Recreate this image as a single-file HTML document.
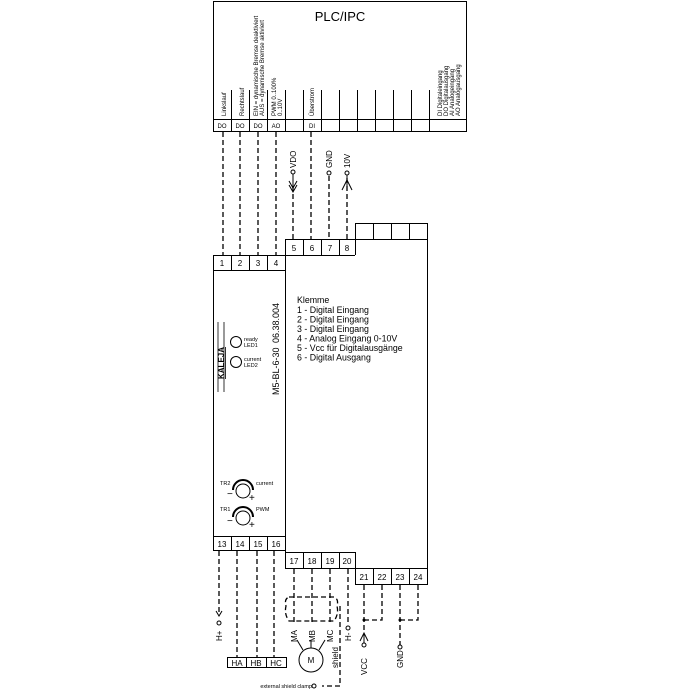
<!DOCTYPE html>
<html><head><meta charset="utf-8"><style>
html,body{margin:0;padding:0;background:#fff}
svg{display:block;font-family:"Liberation Sans",sans-serif}
</style></head><body>
<svg width="700" height="700" viewBox="0 0 700 700" xmlns="http://www.w3.org/2000/svg">
<g fill="none" stroke="#000" stroke-width="1">
<rect x="213.5" y="1.5" width="253" height="130"/>
<line x1="213" y1="119.5" x2="467" y2="119.5"/>
<g>
<line x1="231.5" y1="90" x2="231.5" y2="131"/>
<line x1="249.5" y1="90" x2="249.5" y2="131"/>
<line x1="267.5" y1="90" x2="267.5" y2="131"/>
<line x1="285.5" y1="90" x2="285.5" y2="131"/>
<line x1="303.5" y1="90" x2="303.5" y2="131"/>
<line x1="321.5" y1="90" x2="321.5" y2="131"/>
<line x1="339.5" y1="90" x2="339.5" y2="131"/>
<line x1="357.5" y1="90" x2="357.5" y2="131"/>
<line x1="375.5" y1="90" x2="375.5" y2="131"/>
<line x1="393.5" y1="90" x2="393.5" y2="131"/>
<line x1="411.5" y1="90" x2="411.5" y2="131"/>
<line x1="429.5" y1="90" x2="429.5" y2="131"/>
</g>
<rect x="355.5" y="223.5" width="72" height="16"/>
<line x1="373.5" y1="223" x2="373.5" y2="239"/><line x1="391.5" y1="223" x2="391.5" y2="239"/><line x1="409.5" y1="223" x2="409.5" y2="239"/>
<rect x="285.5" y="239.5" width="142" height="329"/>
<line x1="285" y1="255.5" x2="355" y2="255.5"/>
<line x1="303.5" y1="239" x2="303.5" y2="255"/><line x1="321.5" y1="239" x2="321.5" y2="255"/><line x1="339.5" y1="239" x2="339.5" y2="255"/><line x1="355.5" y1="239" x2="355.5" y2="255"/>
<rect x="213.5" y="255.5" width="72" height="295"/>
<line x1="213" y1="270.5" x2="285" y2="270.5"/>
<line x1="231.5" y1="255" x2="231.5" y2="270"/><line x1="249.5" y1="255" x2="249.5" y2="270"/><line x1="267.5" y1="255" x2="267.5" y2="270"/>
<line x1="213" y1="536.5" x2="285" y2="536.5"/>
<line x1="231.5" y1="536" x2="231.5" y2="550"/><line x1="249.5" y1="536" x2="249.5" y2="550"/><line x1="267.5" y1="536" x2="267.5" y2="550"/>
<line x1="285" y1="552.5" x2="355" y2="552.5"/>
<line x1="303.5" y1="552" x2="303.5" y2="568"/><line x1="321.5" y1="552" x2="321.5" y2="568"/><line x1="339.5" y1="552" x2="339.5" y2="568"/><line x1="355.5" y1="552" x2="355.5" y2="585"/>
<rect x="355.5" y="568.5" width="72" height="16"/>
<line x1="373.5" y1="568" x2="373.5" y2="584"/><line x1="391.5" y1="568" x2="391.5" y2="584"/><line x1="409.5" y1="568" x2="409.5" y2="584"/>
<g stroke-dasharray="5,3" stroke-width="1.3">
<line x1="223" y1="132" x2="223" y2="255"/>
<line x1="240" y1="132" x2="240" y2="255"/>
<line x1="258" y1="132" x2="258" y2="255"/>
<line x1="276" y1="132" x2="276" y2="255"/>
<line x1="311" y1="132" x2="311" y2="239"/>
<line x1="293" y1="186" x2="293" y2="239"/>
<line x1="329" y1="176" x2="329" y2="239"/>
<line x1="347" y1="178" x2="347" y2="239"/>
<line x1="219" y1="551" x2="219" y2="614"/>
<line x1="237" y1="551" x2="237" y2="657"/>
<line x1="257" y1="551" x2="257" y2="657"/>
<line x1="274" y1="551" x2="274" y2="657"/>
<line x1="294" y1="569" x2="294" y2="625"/>
<line x1="312" y1="569" x2="312" y2="625"/>
<line x1="330" y1="569" x2="330" y2="625"/>
<line x1="348" y1="569" x2="348" y2="625"/>
<path d="M340,606 V686 H322"/>
<path d="M289,597 H334 Q339,599 337,606 Q339,614 334,621 H289 Q284,614 286,606 Q284,599 289,597 Z"/>
<line x1="364" y1="585" x2="364" y2="632"/>
<path d="M382,585 V620 H364"/>
<line x1="400" y1="585" x2="400" y2="645"/>
<path d="M418,585 V620 H400"/>
</g>
<circle cx="293" cy="172" r="2"/>
<line x1="293" y1="174" x2="293" y2="186"/>
<path d="M289,181 L293,188 L297,181"/><path d="M289,185 L293,192 L297,185" />
<circle cx="329" cy="173" r="2"/>
<circle cx="347" cy="173" r="2"/>
<line x1="347" y1="175" x2="347" y2="186"/>
<path d="M342,190 L347,180 L352,190"/>
<circle cx="219" cy="623" r="2"/>
<path d="M216,611 L219,616 L222,611"/>
<circle cx="348" cy="628" r="2"/>
<circle cx="364" cy="645" r="2"/>
<path d="M360,641 L364,633 L368,641"/><line x1="364" y1="633" x2="364" y2="643"/>
<circle cx="400" cy="647" r="2"/>
<circle cx="314" cy="686" r="2"/>
<circle cx="311" cy="660" r="12"/>
<line x1="297" y1="640" x2="303" y2="650"/>
<line x1="311" y1="640" x2="311" y2="648"/>
<line x1="325" y1="640" x2="319" y2="650"/>
<rect x="227.5" y="657.5" width="59" height="10"/>
<line x1="246.5" y1="657" x2="246.5" y2="668"/><line x1="266.5" y1="657" x2="266.5" y2="668"/>
<circle cx="236" cy="342" r="5.5"/>
<circle cx="236" cy="362" r="5.5"/>
<line x1="218" y1="322" x2="218" y2="392" stroke-width="0.8"/>
<line x1="224" y1="322" x2="224" y2="392" stroke-width="0.8"/>
<circle cx="243" cy="491" r="7"/>
<path d="M233,490 A10,10 0 0 1 253,490" stroke-width="2"/>
<circle cx="243" cy="518" r="7"/>
<path d="M233,517 A10,10 0 0 1 253,517" stroke-width="2"/>
</g>
<g fill="#000">
<circle cx="364" cy="620" r="1.5"/><circle cx="400" cy="620" r="1.5"/>
<text x="340" y="21" font-size="13" text-anchor="middle">PLC/IPC</text>
<g font-size="6">
<text x="222" y="128" text-anchor="middle">DO</text>
<text x="240" y="128" text-anchor="middle">DO</text>
<text x="258" y="128" text-anchor="middle">DO</text>
<text x="276" y="128" text-anchor="middle">AO</text>
<text x="312" y="128" text-anchor="middle">DI</text>
<text transform="translate(226,116) rotate(-90)">Linkslauf</text>
<text transform="translate(244,116) rotate(-90)">Rechtslauf</text>
<text transform="translate(258,116) rotate(-90)">EIN = dynamische Bremse deaktiviert</text>
<text transform="translate(264,116) rotate(-90)">AUS = dynamische Bremse aktiviert</text>
<text transform="translate(276,116) rotate(-90)">PWM 0..100%</text>
<text transform="translate(282,116) rotate(-90)">0..10V</text>
<text transform="translate(314,116) rotate(-90)">Überstrom</text>
<text transform="translate(442,116) rotate(-90)">DI   Digitaleingang</text>
<text transform="translate(448,116) rotate(-90)">DO  Digitalausgang</text>
<text transform="translate(454,116) rotate(-90)">AI    Analogeingang</text>
<text transform="translate(460,116) rotate(-90)">AO  Analogausgang</text>
</g>
<g font-size="8" text-anchor="middle">
<text x="222" y="266">1</text><text x="240" y="266">2</text><text x="258" y="266">3</text><text x="276" y="266">4</text>
<text x="294" y="251">5</text><text x="312" y="251">6</text><text x="330" y="251">7</text><text x="347" y="251">8</text>
<text x="222" y="547">13</text><text x="240" y="547">14</text><text x="258" y="547">15</text><text x="276" y="547">16</text>
<text x="294" y="564">17</text><text x="312" y="564">18</text><text x="330" y="564">19</text><text x="347" y="564">20</text>
<text x="364" y="580">21</text><text x="382" y="580">22</text><text x="400" y="580">23</text><text x="418" y="580">24</text>
<text x="237" y="666">HA</text><text x="256" y="666">HB</text><text x="276" y="666">HC</text>
<text x="311" y="663">M</text>
</g>
<g font-size="8">
<text transform="translate(296,168) rotate(-90)">VDO</text>
<text transform="translate(332,168) rotate(-90)">GND</text>
<text transform="translate(350,168) rotate(-90)">10V</text>
<text transform="translate(222,641) rotate(-90)">H+</text>
<text transform="translate(351,641) rotate(-90)">H-</text>
<text transform="translate(367,675) rotate(-90)">VCC</text>
<text transform="translate(403,668) rotate(-90)">GND</text>
<text transform="translate(297,642) rotate(-90)">MA</text>
<text transform="translate(315,642) rotate(-90)">MB</text>
<text transform="translate(333,642) rotate(-90)">MC</text>
<text transform="translate(338,668) rotate(-90)">shield</text>
<text transform="translate(279,395) rotate(-90)" font-size="9">M5-BL-6-30</text>
<text transform="translate(279,343) rotate(-90)" font-size="9">06.38.004</text>
<text transform="translate(224,379) rotate(-90)" font-size="8" font-weight="bold" text-decoration="underline">KALEJA</text>
</g>
<g font-size="5.5">
<text x="244" y="341">ready</text><text x="244" y="347">LED1</text>
<text x="244" y="361">current</text><text x="244" y="367">LED2</text>
<text x="220" y="485">TR2</text><text x="256" y="485">current</text>
<text x="220" y="511">TR1</text><text x="256" y="511">PWM</text>
<text x="312" y="688" text-anchor="end">external shield clamp</text>
</g>
<g font-size="10"><text x="227" y="497">−</text><text x="249" y="501">+</text><text x="227" y="524">−</text><text x="249" y="528">+</text></g>
<g font-size="8.8">
<text x="297" y="303">Klemme</text>
<text x="297" y="313">1 - Digital Eingang</text>
<text x="297" y="322.5">2 - Digital Eingang</text>
<text x="297" y="332">3 - Digital Eingang</text>
<text x="297" y="341.5">4 -  Analog Eingang 0-10V</text>
<text x="297" y="351">5 - Vcc für Digitalausgänge</text>
<text x="297" y="360.5">6 -  Digital Ausgang</text>
</g>
</g>
</svg>
</body></html>
